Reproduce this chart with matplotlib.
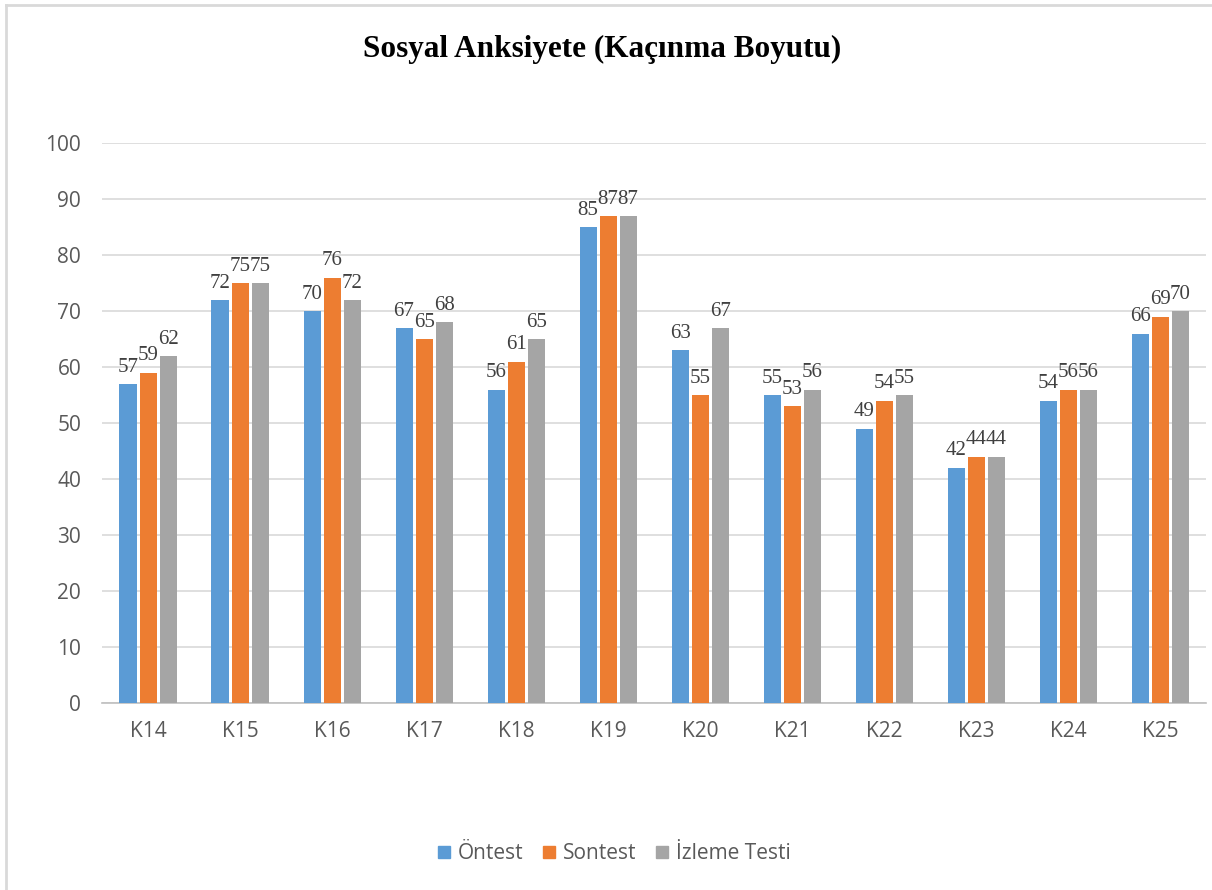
import matplotlib
matplotlib.use("Agg")
import matplotlib.pyplot as plt
from matplotlib.lines import Line2D
import numpy as np

categories = ["K14", "K15", "K16", "K17", "K18", "K19", "K20", "K21", "K22", "K23", "K24", "K25"]
series_names = ["Öntest", "Sontest", "İzleme Testi"]
ontest = [57, 72, 70, 67, 56, 85, 63, 55, 49, 42, 54, 66]
sontest = [59, 75, 76, 65, 61, 87, 55, 53, 54, 44, 56, 69]
izleme = [62, 75, 72, 68, 65, 87, 67, 56, 55, 44, 56, 70]
colors = ["#5B9BD5", "#ED7D31", "#A5A5A5"]
yticks = [0, 10, 20, 30, 40, 50, 60, 70, 80, 90, 100]
title = "Sosyal Anksiyete (Kaçınma Boyutu)"

fig = plt.figure(figsize=(12.12, 8.9), dpi=100)
ax = fig.add_axes([0.0842, 0.210, 0.911, 0.629])

x = np.arange(len(categories))
width = 0.185
step = 0.218
for i, (vals, name, col) in enumerate(zip([ontest, sontest, izleme], series_names, colors)):
    pos = x + (i - 1) * step
    ax.bar(pos, vals, width=width, color=col, label=name, zorder=3)
    for xp, v in zip(pos, vals):
        ax.annotate(str(v), (xp, v), xytext=(0, 9), textcoords="offset points",
                    ha="center", va="baseline", fontsize=15,
                    family="Liberation Serif", color="#404040", zorder=4)

ax.set_xlim(-0.5, len(categories) - 0.5)
ax.set_ylim(0, 100)
ax.set_yticks(yticks)
ax.set_yticklabels([str(t) for t in yticks], family="Open Sans", fontsize=15, color="#595959")
ax.set_xticks(x)
ax.set_xticklabels(categories, family="Open Sans", fontsize=15, color="#595959")
ax.tick_params(axis="both", length=0)
ax.tick_params(axis="y", pad=15)
ax.tick_params(axis="x", pad=13)
ax.yaxis.grid(True, color="#D9D9D9", linewidth=1.2, zorder=0)
ax.set_axisbelow(True)
for side in ["top", "right", "left"]:
    ax.spines[side].set_visible(False)
ax.spines["bottom"].set_color("#BFBFBF")
ax.spines["bottom"].set_linewidth(1.2)

fig.text(0.497, 0.944, title, ha="center", va="center", fontsize=22.5,
         fontweight="bold", family="Liberation Serif", color="#000000")

handles = [Line2D([0], [0], marker="s", linestyle="none", markersize=9,
                  markerfacecolor=c, markeredgecolor=c) for c in colors]
fig.legend(handles, series_names, loc="center", bbox_to_anchor=(0.505, 0.041),
           ncol=3, frameon=False, handletextpad=0.15, columnspacing=0.75,
           handlelength=1.0, prop={"family": "Open Sans", "size": 15},
           labelcolor="#595959")

# chart frame edges
fig.add_artist(Line2D([0.005, 0.005], [0.0, 0.994], transform=fig.transFigure,
                      color="#D9D9D9", linewidth=2))
fig.add_artist(Line2D([0.005, 1.0], [0.994, 0.994], transform=fig.transFigure,
                      color="#D9D9D9", linewidth=2))

fig.savefig("out.png", dpi=100, facecolor="white")
